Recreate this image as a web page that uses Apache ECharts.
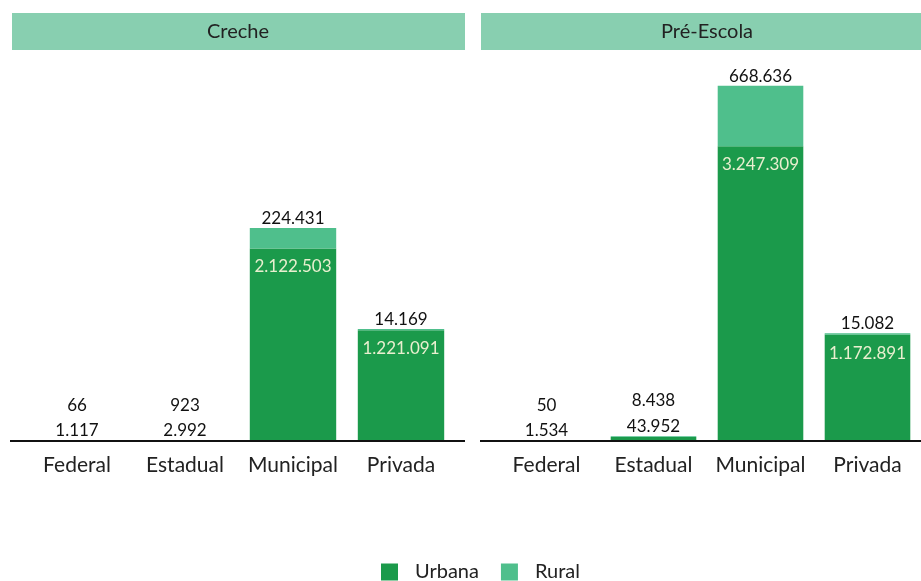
<!DOCTYPE html>
<html>
<head>
<meta charset="utf-8">
<script src="https://cdn.jsdelivr.net/npm/echarts@6/dist/echarts.min.js"></script>
<style>html,body{margin:0;padding:0;background:#fff}#c{width:921px;height:581px}</style>
</head>
<body>
<div id="c"></div>
<script>
const categories = ['Federal', 'Estadual', 'Municipal', 'Privada'];
const panels = ['Creche', 'Pré-Escola'];
const crecheUrbana = [1117, 2992, 2122503, 1221091];
const crecheRural = [66, 923, 224431, 14169];
const preUrbana = [1534, 43952, 3247309, 1172891];
const preRural = [50, 8438, 668636, 15082];
const seriesNames = ['Urbana', 'Rural'];

const FONT = 'Lato';
const DARK = '#1b9a4b';
const LIGHT = '#4fbf8c';
const HEAD = '#88cfb0';
const SMALL = 100000;

function fmt(v) { return String(v).replace(/\B(?=(\d{3})+(?!\d))/g, '.'); }

function urbanData(arr) {
  return arr.map(v => ({
    value: v,
    label: v >= SMALL
      ? { position: 'insideTop', distance: 10, color: '#e9efcf' }
      : { position: 'top', distance: 2, color: '#111' }
  }));
}
function ruralData(arr, urb) {
  return arr.map((v, i) => ({
    value: v,
    label: urb[i] >= SMALL
      ? { position: 'top', distance: 1 }
      : { position: 'top', distance: 27 }
  }));
}

const grids = [
  { left: 23, width: 432, top: 78, bottom: 140 },
  { left: 493, width: 428, top: 78, bottom: 140 }
];

const labelBase = { show: true, fontFamily: FONT, fontSize: 17, color: '#111', formatter: p => fmt(p.value) };

const series = [];
[[crecheUrbana, crecheRural], [preUrbana, preRural]].forEach((pair, gi) => {
  series.push({
    name: seriesNames[0], type: 'bar', stack: 's' + gi, xAxisIndex: gi, yAxisIndex: gi,
    barWidth: '80%', itemStyle: { color: DARK }, label: labelBase,
    data: urbanData(pair[0])
  });
  series.push({
    name: seriesNames[1], type: 'bar', stack: 's' + gi, xAxisIndex: gi, yAxisIndex: gi,
    barWidth: '80%', itemStyle: { color: LIGHT }, label: labelBase,
    data: ruralData(pair[1], pair[0])
  });
});

const chart = echarts.init(document.getElementById('c'));
chart.setOption({
  animation: false,
  textStyle: { fontFamily: FONT },
  grid: grids,
  xAxis: grids.map((g, i) => ({
    type: 'category', gridIndex: i, data: categories,
    axisLine: { show: false }, axisTick: { show: false },
    axisLabel: { interval: 0, fontFamily: FONT, fontSize: 21, color: '#222', margin: 14 }
  })),
  yAxis: grids.map((g, i) => ({
    type: 'value', gridIndex: i, min: 0, max: 4000000, show: false, splitLine: { show: false }
  })),
  legend: {
    data: seriesNames, left: 376, top: 557, itemWidth: 17, itemHeight: 17, itemGap: 22,
    icon: 'rect', textStyle: { fontFamily: FONT, fontSize: 20, color: '#222', padding: [0, 0, 0, 12] }
  },
  graphic: [
    { type: 'rect', shape: { x: 12, y: 13, width: 453, height: 37 }, style: { fill: HEAD } },
    { type: 'rect', shape: { x: 481, y: 13, width: 440, height: 37 }, style: { fill: HEAD } },
    { type: 'text', x: 238, y: 32, style: { text: panels[0], fontFamily: FONT, fontSize: 20, fill: '#222', align: 'center', verticalAlign: 'middle' } },
    { type: 'text', x: 707, y: 32, style: { text: panels[1], fontFamily: FONT, fontSize: 20, fill: '#222', align: 'center', verticalAlign: 'middle' } },
    { type: 'line', shape: { x1: 10, y1: 441, x2: 465, y2: 441 }, style: { stroke: '#111', lineWidth: 2 }, z: 10 },
    { type: 'line', shape: { x1: 480, y1: 441, x2: 921, y2: 441 }, style: { stroke: '#111', lineWidth: 2 }, z: 10 }
  ],
  series: series
});
</script>
</body>
</html>
